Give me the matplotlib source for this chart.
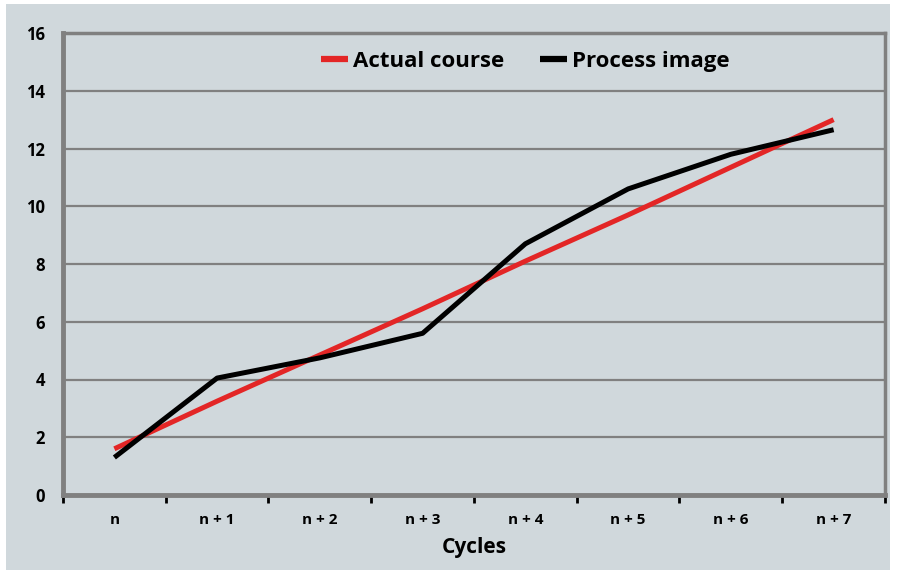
import numpy as np
import matplotlib.pyplot as plt
import matplotlib as mpl

mpl.rcParams['font.family'] = ['Open Sans', 'DejaVu Sans']

# data
cycles = ['n', 'n + 1', 'n + 2', 'n + 3', 'n + 4', 'n + 5', 'n + 6', 'n + 7']
actual_course = [1.6, 3.25, 4.85, 6.45, 8.1, 9.7, 11.35, 13.0]
process_image = [1.3, 4.05, 4.75, 5.6, 8.7, 10.6, 11.8, 12.65]

bg = '#d0d8dc'
grey = '#808080'

fig = plt.figure(figsize=(9.03, 5.71), dpi=100)
fig.patch.set_facecolor('white')
# coloured panel with thin white border
fig.patches.append(mpl.patches.Rectangle((6/903, 1/571), 884/903, 566/571,
                                         transform=fig.transFigure,
                                         facecolor=bg, edgecolor='none', zorder=-10))

ax = fig.add_axes([63/903, 1 - 495/571, 822/903, 462/571])
ax.set_facecolor(bg)

x = np.arange(len(cycles))
ax.plot(x, actual_course, color='#e32626', lw=3.6, label='Actual course',
        solid_capstyle='butt', zorder=3)
ax.plot(x, process_image, color='black', lw=3.6, label='Process image',
        solid_capstyle='butt', zorder=4)

ax.set_xlim(-0.5, 7.5)
ax.set_ylim(0, 16)
ax.set_yticks(np.arange(0, 17, 2))
ax.grid(True, axis='y', color=grey, lw=1.6, zorder=1)

ax.set_xticks(np.arange(-0.5, 8, 1))
ax.set_xticklabels([])
ax.set_xticks(x, minor=True)
ax.set_xticklabels(cycles, minor=True, fontsize=11, fontweight='bold')
ax.tick_params(axis='x', which='major', direction='out', length=6, width=2,
               color='black', pad=4)
ax.tick_params(axis='x', which='minor', length=0, pad=13)
ax.tick_params(axis='y', length=0, labelsize=12, pad=13)
for lab in ax.get_yticklabels():
    lab.set_fontweight('bold')

for side in ['left', 'bottom']:
    ax.spines[side].set_color(grey)
    ax.spines[side].set_linewidth(3.5)
for side in ['top', 'right']:
    ax.spines[side].set_color(grey)
    ax.spines[side].set_linewidth(2.5)

ax.set_xlabel('Cycles', fontsize=15, fontweight='bold', labelpad=7)

leg = ax.legend(loc='upper center', bbox_to_anchor=(0.562, 1.005), ncol=2,
                frameon=False, handlelength=1.25, handletextpad=0.2,
                columnspacing=1.6, prop={'size': 16, 'weight': 'bold'})
for h in leg.get_lines():
    h.set_linewidth(4.5)

plt.savefig('out.png', dpi=100)
